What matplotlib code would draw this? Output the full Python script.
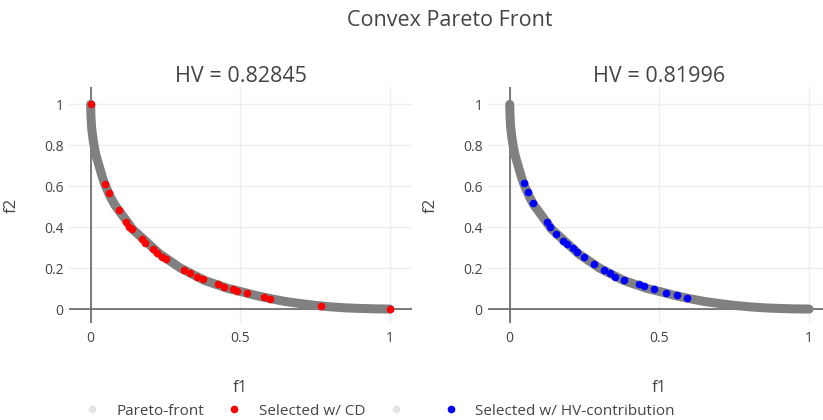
import matplotlib
matplotlib.use('Agg')
import matplotlib.pyplot as plt
from matplotlib.lines import Line2D

plt.rcParams['font.family'] = ['Open Sans', 'DejaVu Sans']
plt.rcParams['text.color'] = '#444444'

# Pareto front
front_f1 = [0, 0.001, 0.003, 0.006, 0.01, 0.015, 0.02, 0.03, 0.04, 0.05, 0.065, 0.08,
            0.1, 0.12, 0.14, 0.17, 0.2, 0.23, 0.26, 0.3, 0.34, 0.38, 0.42, 0.46, 0.5,
            0.55, 0.6, 0.65, 0.7, 0.75, 0.8, 0.85, 0.9, 0.95, 1.0]
front_f2 = [1.0, 0.94, 0.89, 0.85, 0.81, 0.77, 0.74, 0.69, 0.64, 0.60, 0.55, 0.51,
            0.47, 0.43, 0.39, 0.35, 0.31, 0.27, 0.24, 0.20, 0.17, 0.14, 0.12, 0.10, 0.086,
            0.067, 0.051, 0.037, 0.027, 0.018, 0.011, 0.006, 0.003, 0.001, 0.0]

# points selected with crowding distance
cd_f1 = [0.0, 0.048, 0.060, 0.094, 0.118, 0.129, 0.137, 0.170, 0.183, 0.207, 0.220, 0.237,
         0.252, 0.313, 0.332, 0.354, 0.376, 0.426, 0.447, 0.477, 0.490, 0.521, 0.579, 0.599,
         0.770, 1.0]
cd_f2 = [1.0, 0.611, 0.565, 0.484, 0.427, 0.402, 0.389, 0.340, 0.324, 0.293, 0.275, 0.256,
         0.244, 0.191, 0.174, 0.158, 0.145, 0.121, 0.109, 0.096, 0.090, 0.080, 0.057, 0.050,
         0.016, 0.0]

# points selected with HV contribution
hv_f1 = [0.047, 0.060, 0.078, 0.125, 0.136, 0.156, 0.178, 0.190, 0.212, 0.225, 0.247,
         0.283, 0.314, 0.334, 0.353, 0.381, 0.431, 0.448, 0.482, 0.521, 0.560, 0.593]
hv_f2 = [0.614, 0.570, 0.520, 0.427, 0.402, 0.366, 0.334, 0.318, 0.296, 0.277, 0.256,
         0.218, 0.191, 0.174, 0.158, 0.142, 0.122, 0.114, 0.096, 0.080, 0.068, 0.052]

titles = ['HV = 0.82845', 'HV = 0.81996']

fig = plt.figure(figsize=(8.23, 4.2), dpi=100)
ax1 = fig.add_axes([0.0838, 0.231, 0.4168, 0.562])
ax2 = fig.add_axes([0.593, 0.231, 0.4168, 0.562])

for ax, title, sx, sy, col in [(ax1, titles[0], cd_f1, cd_f2, 'red'),
                               (ax2, titles[1], hv_f1, hv_f2, 'blue')]:
    ax.plot(front_f1, front_f2, color='#808080', lw=6.5, solid_capstyle='round', zorder=3)
    ax.plot(sx, sy, 'o', color=col, ms=5.5, mew=0, zorder=4)
    ax.set_xlim(-0.0725, 1.0735)
    ax.set_ylim(-0.068, 1.085)
    ax.set_xticks([0, 0.5, 1])
    ax.set_xticklabels(['0', '0.5', '1'])
    ax.set_yticks([0, 0.2, 0.4, 0.6, 0.8, 1])
    ax.set_yticklabels(['0', '0.2', '0.4', '0.6', '0.8', '1'])
    ax.grid(True, color='#eeeeee', lw=1)
    ax.set_axisbelow(True)
    ax.axhline(0, color='#666666', lw=1.2, zorder=2)
    ax.axvline(0, color='#666666', lw=1.2, zorder=2)
    for s in ax.spines.values():
        s.set_visible(False)
    ax.tick_params(axis='x', length=0, labelsize=10, labelcolor='#444444', pad=6)
    ax.tick_params(axis='y', length=0, labelsize=10, labelcolor='#444444', pad=4)
    ax.set_title(title, fontsize=15.5, color='#444444', pad=3)
    ax.set_xlabel('f1', fontsize=12, color='#444444')
    ax.set_ylabel('f2', fontsize=12, color='#444444')
    ax.xaxis.set_label_coords(0.5, -0.24)
    ax.yaxis.set_label_coords(-0.145, 0.5)

fig.text(0.547, 0.952, 'Convex Pareto Front', ha='center', va='center', fontsize=15.5, color='#444444')

handles = [Line2D([], [], ls='none', marker='o', color='#e3e3e3', ms=5.5, mew=0),
           Line2D([], [], ls='none', marker='o', color='red', ms=5.5, mew=0),
           Line2D([], [], ls='none', marker='o', color='#e3e3e3', ms=5.5, mew=0),
           Line2D([], [], ls='none', marker='o', color='blue', ms=5.5, mew=0)]
labels = ['Pareto-front', 'Selected w/ CD', '', 'Selected w/ HV-contribution']
fig.legend(handles, labels, loc='center', bbox_to_anchor=(0.461, 0.021), ncol=4,
           frameon=False, fontsize=11, handlelength=1, handletextpad=1.1,
           columnspacing=1.5, labelcolor='#444444')

fig.savefig('out.png', dpi=100)
